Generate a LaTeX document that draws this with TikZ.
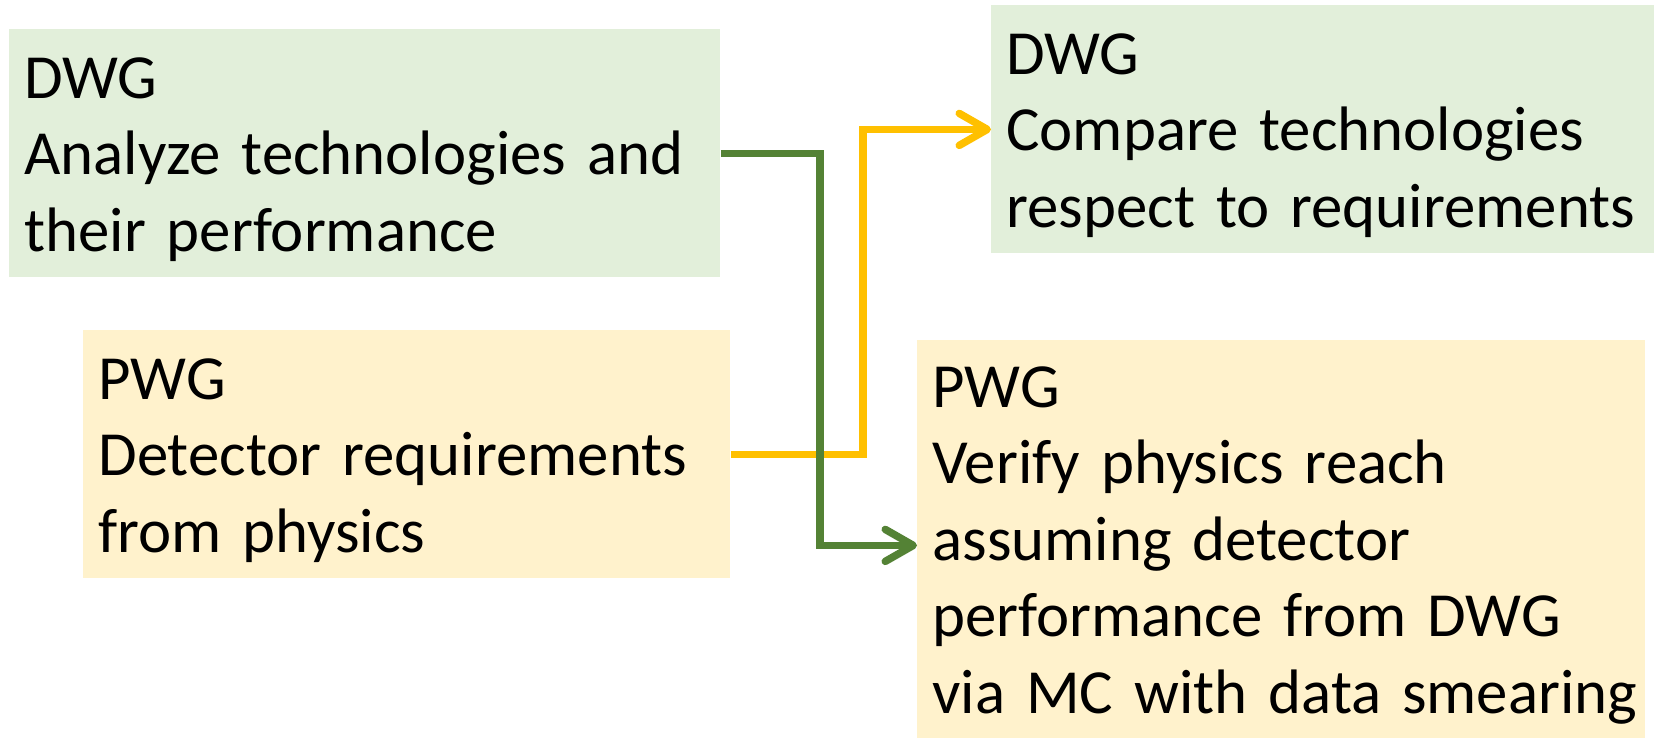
\documentclass[tikz,border=0pt]{standalone}
\usepackage{fontspec}
\setmainfont{Carlito}
\usetikzlibrary{arrows.meta}
\definecolor{dwgfill}{HTML}{E2EFDA}
\definecolor{pwgfill}{HTML}{FFF2CC}
\definecolor{dwgline}{HTML}{548235}
\definecolor{pwgline}{HTML}{FFC000}

\begin{document}
\begin{tikzpicture}[x=0.5pt,y=-0.5pt,
	box/.style={anchor=north west, inner xsep=7.5pt, inner ysep=0pt,
		font=\fontsize{31.4}{38.25}\selectfont, text height=34.5pt, text depth=89.5pt},
	dwgbox/.style={box, fill=dwgfill},
	pwgbox/.style={box, fill=pwgfill},
	link/.style={line width=3.75pt, -{Straight Barb[length=14pt,width=16pt,line cap=round,line join=round]}}]
	\useasboundingbox (0,0) rectangle (1654,738);
	
	\node[dwgbox, text width=340.5pt] (A) at (9,29) {DWG\\Analyze technologies and\\their performance};
	\node[pwgbox, text width=308.5pt] (B) at (83,330) {PWG\\Detector requirements\\from physics};
	\node[dwgbox, text width=329.5pt] (D) at (991,5) {DWG\\Compare technologies\\respect to requirements};
	\node[pwgbox, text width=349pt, text height=33.5pt, text depth=171.5pt] (C) at (917,340) {PWG\\Verify physics reach\\assuming detector\\performance from DWG\\\mbox{via MC with data smearing}};
	
	\draw[link, pwgline] (B.east) -- ++(132,0) |- (D.west);
	\draw[link, dwgline] (A.east) -- ++(99,0) |- (C.west);
\end{tikzpicture}
\end{document}
